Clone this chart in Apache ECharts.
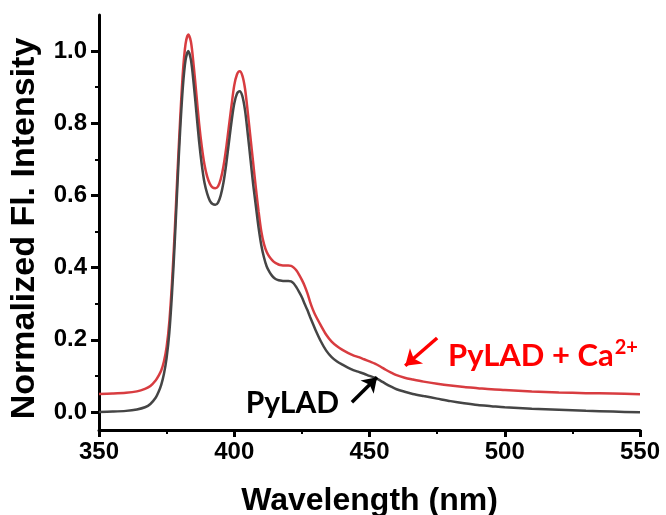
<!DOCTYPE html>
<html>
<head>
<meta charset="utf-8">
<script src="https://cdn.jsdelivr.net/npm/echarts@6/dist/echarts.min.js"></script>
<style>
  html, body { margin: 0; padding: 0; background: #fff; }
  #chart { width: 666px; height: 515px; }
</style>
</head>
<body>
<div id="chart"></div>
<script>
// Emission wavelengths (nm), shared by both spectra
const wavelength = [350,355,360,364,367,369,
  371,372,373,374,375,376,377,378,379,380,
  381,382,383,384,385,386,387,388,389,390,
  391,392,393,394,395,396,397,398,399,400,
  401,402,403,404,405,406,407,408,409,410,
  411,412,413,414,415,416,417,418,419,420,
  421,422,423,424,425,426,427,428,429,430,
  432,434,436,438,440,442,444,446,448,450,452,454,456,458,460,
  463,466,470,475,480,485,490,495,500,
  510,520,530,540,550];

// Normalized fluorescence, PyLAD alone
const pylad = [0.000,0.001,0.003,0.007,0.013,0.022,
  0.040,0.055,0.075,0.105,0.150,0.220,0.330,0.470,0.630,0.780,
  0.900,0.975,1.000,0.975,0.910,0.830,0.750,0.685,0.635,0.605,
  0.585,0.576,0.574,0.580,0.600,0.635,0.685,0.745,0.805,0.855,
  0.882,0.889,0.875,0.835,0.770,0.700,0.630,0.570,0.510,0.462,
  0.428,0.403,0.388,0.377,0.370,0.366,0.364,0.363,0.363,0.363,
  0.362,0.356,0.345,0.332,0.318,0.300,0.283,0.264,0.246,0.228,
  0.196,0.170,0.152,0.140,0.131,0.123,0.116,0.111,0.106,0.100,0.095,0.087,0.078,0.070,0.063,
  0.056,0.050,0.044,0.037,0.030,0.024,0.019,0.016,0.013,
  0.009,0.006,0.003,0.001,-0.001];

// Normalized fluorescence, PyLAD + Ca2+
const pyladCa = [0.050,0.051,0.053,0.057,0.064,0.072,
  0.088,0.100,0.115,0.140,0.180,0.250,0.360,0.500,0.660,0.810,
  0.940,1.020,1.046,1.025,0.960,0.880,0.800,0.735,0.685,0.652,
  0.632,0.622,0.620,0.625,0.645,0.680,0.730,0.790,0.850,0.905,
  0.935,0.944,0.932,0.895,0.830,0.760,0.690,0.620,0.555,0.500,
  0.465,0.443,0.430,0.421,0.414,0.410,0.407,0.406,0.406,0.406,
  0.405,0.400,0.392,0.380,0.366,0.350,0.330,0.306,0.285,0.268,
  0.240,0.214,0.195,0.182,0.172,0.164,0.157,0.152,0.146,0.140,0.134,0.126,0.117,0.109,0.102,
  0.095,0.090,0.084,0.078,0.073,0.069,0.066,0.063,0.061,
  0.057,0.054,0.052,0.051,0.049];

// Axis tick values
const yLabelValues = [0.0, 0.2, 0.4, 0.6, 0.8, 1.0];
const yMinorValues = [0.1, 0.3, 0.5, 0.7, 0.9];

// Annotation anchors in data units
const blackLabel = { text: 'PyLAD', at: [421.5, 0.024] };
const blackArrow = [[443.5, 0.027], [452.8, 0.096]];
const redLabel = { text: 'PyLAD + Ca', at: [479, 0.155] };
const redArrow = [[475, 0.205], [463.2, 0.128]];

const toPairs = ys => wavelength.map((x, i) => [x, ys[i]]);

const chart = echarts.init(document.getElementById('chart'), null, { renderer: 'canvas' });

const tickFont = { fontFamily: 'Liberation Sans, Arial, sans-serif', fontWeight: 'bold', fontSize: 24, color: '#000' };
const titleFont = { fontFamily: 'Liberation Sans, Arial, sans-serif', fontWeight: 'bold', color: '#000' };

chart.setOption({
  backgroundColor: '#fff',
  animation: false,
  grid: { left: 99, right: 26, top: 15, bottom: 85, containLabel: false, outerBoundsMode: 'none' },
  xAxis: {
    type: 'value', min: 350, max: 550, interval: 50,
    name: 'Wavelength (nm)', nameLocation: 'middle', nameGap: 55,
    nameTextStyle: Object.assign({ fontSize: 32 }, titleFont),
    axisLine: { onZero: false, lineStyle: { color: '#000', width: 3 } },
    axisTick: { length: 7, lineStyle: { color: '#000', width: 3 } },
    minorTick: { show: true, splitNumber: 2, length: 4, lineStyle: { color: '#000', width: 2 } },
    axisLabel: Object.assign({ margin: 10 }, tickFont),
    splitLine: { show: false }
  },
  yAxis: [{
    type: 'value', min: -0.05, max: 1.1,
    name: 'Normalized Fl. Intensity', nameLocation: 'middle', nameGap: 57,
    nameTextStyle: Object.assign({ fontSize: 34, padding: [0, 12, 0, 0] }, titleFont),
    axisLine: { onZero: false, lineStyle: { color: '#000', width: 3 } },
    axisTick: { length: 8, customValues: yLabelValues, lineStyle: { color: '#000', width: 3 } },
    axisLabel: Object.assign({ margin: 12, customValues: yLabelValues, formatter: v => v.toFixed(1) }, tickFont),
    splitLine: { show: false }
  }, {
    type: 'value', min: -0.05, max: 1.1, position: 'left',
    axisLine: { show: false },
    axisTick: { length: 4, customValues: yMinorValues, lineStyle: { color: '#000', width: 2 } },
    axisLabel: { show: false },
    splitLine: { show: false }
  }],
  series: [{
    name: 'PyLAD',
    type: 'line',
    data: toPairs(pylad),
    showSymbol: false,
    smooth: 0.3,
    z: 3,
    lineStyle: { color: '#454545', width: 2.5 },
    markPoint: {
      silent: true,
      symbol: 'circle', symbolSize: 0,
      label: {
        show: true, position: 'inside',
        formatter: blackLabel.text,
        fontFamily: 'Lato, sans-serif', fontWeight: 'bold', fontSize: 30, color: '#000'
      },
      data: [{ coord: blackLabel.at }]
    },
    markLine: {
      silent: true,
      symbol: ['none', 'arrow'], symbolSize: [14, 14],
      label: { show: false },
      lineStyle: { color: '#000', width: 3.5, type: 'solid' },
      data: [[{ coord: blackArrow[0] }, { coord: blackArrow[1] }]]
    }
  }, {
    name: 'PyLAD + Ca2+',
    type: 'line',
    data: toPairs(pyladCa),
    showSymbol: false,
    smooth: 0.3,
    z: 2,
    lineStyle: { color: '#d83c40', width: 2.5 },
    markPoint: {
      silent: true,
      symbol: 'circle', symbolSize: 0,
      label: {
        show: true, position: 'right', distance: 0,
        formatter: '{m|' + redLabel.text + '}{s|2+}',
        rich: {
          m: { fontFamily: 'Lato, sans-serif', fontWeight: 'bold', fontSize: 31, color: '#ff0000' },
          s: { fontFamily: 'Lato, sans-serif', fontWeight: 'bold', fontSize: 20, color: '#ff0000', padding: [0, 0, 16, 1] }
        }
      },
      data: [{ coord: redLabel.at }]
    },
    markLine: {
      silent: true,
      symbol: ['none', 'arrow'], symbolSize: [15, 15],
      label: { show: false },
      lineStyle: { color: '#ff0000', width: 3.5, type: 'solid' },
      data: [[{ coord: redArrow[0] }, { coord: redArrow[1] }]]
    }
  }]
});
</script>
</body>
</html>
